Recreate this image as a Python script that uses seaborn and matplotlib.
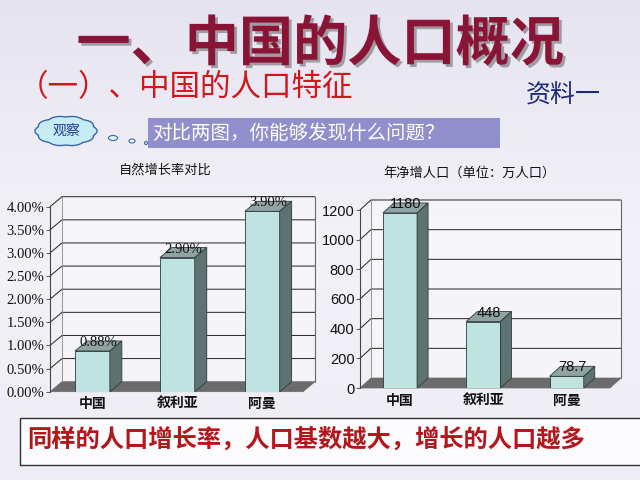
import matplotlib
matplotlib.use("Agg")
import matplotlib.pyplot as plt
import matplotlib.patheffects as pe
from matplotlib.patches import Polygon, Rectangle, Ellipse
import numpy as np
import seaborn as sns

# data
countries = ["中国", "叙利亚", "阿曼"]
growth_rate = [0.88, 2.90, 3.90]          # 自然增长率 (%)
growth_labels = ["0.88%", "2.90%", "3.90%"]
rate_ticks = [0.0, 0.5, 1.0, 1.5, 2.0, 2.5, 3.0, 3.5, 4.0]
net_increase = [1180, 448, 78.7]           # 年净增人口 (万人)
increase_labels = ["1180", "448", "78.7"]
increase_ticks = [0, 200, 400, 600, 800, 1000, 1200]

FRONT = "#BEE3E1"
SIDE = "#5D7372"
TOP = "#8FA4A2"
FLOOR = "#6B6B6B"
EDGE = "#2E3A3A"

sns.set_theme(style="white")
plt.rcParams["font.family"] = ["Noto Sans CJK SC", "DejaVu Sans"]

W, H = 640, 480
fig = plt.figure(figsize=(6.4, 4.8), dpi=100)

# slide background
bg = fig.add_axes([0, 0, 1, 1], zorder=-10)
grad = np.linspace(0, 1, 256).reshape(-1, 1)
bg.imshow(grad, aspect="auto", cmap=matplotlib.colors.LinearSegmentedColormap.from_list(
    "bg", ["#E6E4F0", "#F3F2F8", "#EEEDF5"]), extent=[0, 1, 0, 1])
bg.set_axis_off()


def px_rect(x0, y0, x1, y1):
    return [x0 / W, 1 - y1 / H, (x1 - x0) / W, (y1 - y0) / H]


def bar3d(rect, values, labels, ticks, tick_fmt, xlim, tick_font, depth=(11, 10)):
    ax = fig.add_axes(rect)
    ax.patch.set_alpha(0)
    sns.barplot(x=countries, y=values, color=FRONT, saturation=1, width=0.41,
                edgecolor=EDGE, linewidth=0.6, ax=ax, zorder=4)
    ymax = ticks[-1]
    ax.set_xlim(*xlim)
    ax.set_ylim(0, ymax)
    wpx, hpx = rect[2] * W, rect[3] * H
    dx = depth[0] / wpx * (xlim[1] - xlim[0])
    dy = depth[1] / hpx * ymax
    x0, x1 = xlim
    # back wall + floor
    ax.add_patch(Polygon([(x0, 0), (x1, 0), (x1 + dx, dy), (x0 + dx, dy)],
                         closed=True, fc=FLOOR, ec=FLOOR, lw=0.5, zorder=2, clip_on=False))
    ax.add_patch(Rectangle((x0 + dx, dy), x1 - x0, ymax, fc="white", alpha=0.35,
                           ec="none", zorder=1, clip_on=False))
    for t in ticks[1:]:
        ax.plot([x0, x0 + dx, x1 + dx], [t, t + dy, t + dy], color="#222222",
                lw=0.7, zorder=2, clip_on=False)
    ax.plot([x0, x0], [0, ymax], color="#444444", lw=0.8, zorder=2, clip_on=False)
    ax.plot([x0 + dx, x0 + dx], [dy, ymax + dy], color="#888888", lw=0.6, zorder=2, clip_on=False)
    ax.plot([x1 + dx, x1 + dx], [dy, ymax + dy], color="#666666", lw=0.8, zorder=2, clip_on=False)
    # 3d faces
    for p, lab in zip(ax.patches[:len(values)], labels):
        bx, bw, bh = p.get_x(), p.get_width(), p.get_height()
        ax.add_patch(Polygon([(bx, bh), (bx + bw, bh), (bx + bw + dx, bh + dy), (bx + dx, bh + dy)],
                             closed=True, fc=TOP, ec=EDGE, lw=0.6, zorder=4, clip_on=False))
        ax.add_patch(Polygon([(bx + bw, 0), (bx + bw + dx, dy), (bx + bw + dx, bh + dy), (bx + bw, bh)],
                             closed=True, fc=SIDE, ec=EDGE, lw=0.6, zorder=4, clip_on=False))
        ax.text(bx + bw / 2 + dx / 2, bh + dy * 0.2, lab, ha="center", va="bottom",
                fontsize=10.5, family=tick_font, color="#111111", zorder=6)
    ax.set_yticks(ticks)
    ax.set_yticklabels([tick_fmt(t) for t in ticks], family=tick_font, fontsize=10.5, color="#111111")
    ax.tick_params(axis="y", length=3, width=0.6, color="#444444", pad=1, left=True)
    ax.tick_params(axis="x", length=0, pad=4)
    for t in ax.get_xticklabels():
        t.set_fontsize(10)
        t.set_fontweight("bold")
        t.set_color("#111111")
    for s in ax.spines.values():
        s.set_visible(False)
    ax.set_xlabel("")
    ax.set_ylabel("")
    ax.grid(False)
    return ax


bar3d(px_rect(50, 206.7, 303, 391.7), growth_rate, growth_labels, rate_ticks,
      lambda t: f"{t:.2f}%", (-0.5, 2.48), "Liberation Serif", depth=(12, 10))
bar3d(px_rect(360, 210, 610, 388), net_increase, increase_labels, increase_ticks,
      lambda t: f"{t:d}", (-0.48, 2.52), "Liberation Sans", depth=(11, 10))

# chart titles
fig.text(165 / W, 1 - 170 / H, "自然增长率对比", ha="center", va="center", fontsize=9.5, color="#111111")
fig.text(470 / W, 1 - 173 / H, "年净增人口（单位：万人口）", ha="center", va="center", fontsize=9.5, color="#111111")

# slide headings
fig.text(0.5, 1 - 45 / H, "一、中国的人口概况", ha="center", va="center", fontsize=39,
         fontweight="bold", color="#8A1436",
         path_effects=[pe.withSimplePatchShadow(offset=(2, -2), shadow_rgbFace="#555555", alpha=0.5)])
fig.text(18 / W, 1 - 88 / H, "（一）、中国的人口特征", ha="left", va="center", fontsize=22,
         color="#D0181C")
fig.text(563 / W, 1 - 96 / H, "资料一", ha="center", va="center", fontsize=18, color="#1E2A78")

# prompt bar
fig.add_artist(Rectangle((148 / W, 1 - 148 / H), 352 / W, 30 / H, transform=fig.transFigure,
                         fc="#908FCB", ec="none"))
fig.text(152 / W, 1 - 133 / H, "对比两图，你能够发现什么问题？", ha="left", va="center",
         fontsize=14, color="white")

# thought cloud
th = np.linspace(0, 2 * np.pi, 400)
r = 1 + 0.07 * np.abs(np.cos(5 * th))
cx, cy, rx, ry = 66, 131, 29, 14
cloud = np.column_stack([(cx + rx * r * np.cos(th)) / W, 1 - (cy + ry * r * np.sin(th)) / H])
fig.add_artist(Polygon(cloud, closed=True, transform=fig.transFigure, fc="#C6EDF4", ec="#3A66A8", lw=1))
fig.text(cx / W, 1 - cy / H, "观察", ha="center", va="center", fontsize=10, color="#1E3A9A")
for ex, ey, ew, eh in [(113, 138, 9, 5), (132, 141, 6, 4), (146, 143, 3, 3)]:
    fig.add_artist(Ellipse((ex / W, 1 - ey / H), ew / W, eh / H, transform=fig.transFigure,
                           fc="#E8F6F8", ec="#3A66A8", lw=0.8))

# conclusion box
fig.add_artist(Rectangle((20 / W, 1 - 465 / H), 625 / W, 47 / H, transform=fig.transFigure,
                         fc="#FBFBFD", ec="#333333", lw=1))
fig.text(27 / W, 1 - 441 / H, "同样的人口增长率，人口基数越大，增长的人口越多", ha="left", va="center",
         fontsize=17.5, fontweight="bold", color="#B3161B")

fig.savefig("out.png", dpi=100)
